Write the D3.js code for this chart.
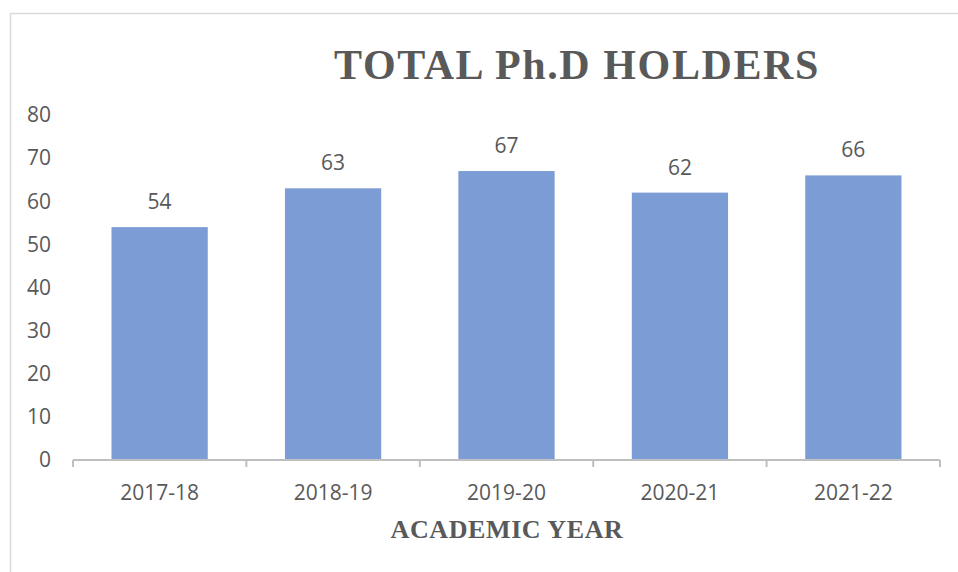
<!DOCTYPE html>
<html>
<head>
<meta charset="utf-8">
<script src="https://cdn.jsdelivr.net/npm/d3@7"></script>
<style>
  body { margin: 0; background: #fff; }
  svg { display: block; }
</style>
</head>
<body>
<svg id="chart"></svg>
<script>
// data
const years = ["2017-18", "2018-19", "2019-20", "2020-21", "2021-22"];
const phdHolders = [54, 63, 67, 62, 66];
const yTicks = [0, 10, 20, 30, 40, 50, 60, 70, 80];

const width = 958;
const height = 572;
const margin = { top: 115, right: 18, bottom: 112, left: 73 };

const svg = d3.select("#chart")
  .attr("width", width)
  .attr("height", height);

// outer frame
svg.append("rect")
  .attr("x", 10.5)
  .attr("y", 13.5)
  .attr("width", width)
  .attr("height", height)
  .attr("fill", "none")
  .attr("stroke", "#d9d9d9")
  .attr("stroke-width", 1.5);

const x = d3.scaleBand()
  .domain(years)
  .range([margin.left, width - margin.right])
  .paddingInner(0.445)
  .paddingOuter(0.222);

const y = d3.scaleLinear()
  .domain([0, 80])
  .range([height - margin.bottom, margin.top]);

// bars
svg.selectAll(".bar")
  .data(phdHolders)
  .enter()
  .append("rect")
  .attr("class", "bar")
  .attr("x", (d, i) => x(years[i]))
  .attr("y", d => y(d))
  .attr("width", x.bandwidth())
  .attr("height", d => y(0) - y(d))
  .attr("fill", "#7b9cd5");

// value labels
svg.selectAll(".val")
  .data(phdHolders)
  .enter()
  .append("text")
  .attr("class", "val")
  .attr("x", (d, i) => x(years[i]) + x.bandwidth() / 2)
  .attr("y", d => y(d) - 18)
  .attr("text-anchor", "middle")
  .attr("font-family", "'Open Sans', sans-serif")
  .attr("font-size", "21px")
  .attr("fill", "#595959")
  .text(d => d);

// y axis labels (no line)
svg.selectAll(".ytick")
  .data(yTicks)
  .enter()
  .append("text")
  .attr("class", "ytick")
  .attr("x", 51)
  .attr("y", d => y(d))
  .attr("dy", "0.35em")
  .attr("text-anchor", "end")
  .attr("font-family", "'Open Sans', sans-serif")
  .attr("font-size", "21px")
  .attr("fill", "#595959")
  .text(d => d);

// x axis with category boundary ticks
const x0 = margin.left;
const x1 = width - margin.right;
const axisY = y(0);
const xAxis = svg.append("g");
xAxis.append("line")
  .attr("x1", x0)
  .attr("x2", x1)
  .attr("y1", axisY)
  .attr("y2", axisY)
  .attr("stroke", "#bfbfbf")
  .attr("stroke-width", 2);
xAxis.selectAll(".tick")
  .data(d3.range(years.length + 1))
  .enter()
  .append("line")
  .attr("x1", i => x0 + i * (x1 - x0) / years.length)
  .attr("x2", i => x0 + i * (x1 - x0) / years.length)
  .attr("y1", axisY)
  .attr("y2", axisY + 7)
  .attr("stroke", "#bfbfbf")
  .attr("stroke-width", 2);

svg.selectAll(".xlab")
  .data(years)
  .enter()
  .append("text")
  .attr("class", "xlab")
  .attr("x", d => x(d) + x.bandwidth() / 2)
  .attr("y", axisY + 40)
  .attr("text-anchor", "middle")
  .attr("font-family", "'Open Sans', sans-serif")
  .attr("font-size", "21px")
  .attr("fill", "#595959")
  .text(d => d);

// titles
svg.append("text")
  .attr("x", 577)
  .attr("y", 79)
  .attr("text-anchor", "middle")
  .attr("font-family", "'Liberation Serif', 'Times New Roman', serif")
  .attr("font-weight", "bold")
  .attr("font-size", "42px")
  .attr("letter-spacing", "1.6px")
  .attr("fill", "#595959")
  .text("TOTAL Ph.D HOLDERS");

svg.append("text")
  .attr("x", 507)
  .attr("y", 538)
  .attr("text-anchor", "middle")
  .attr("font-family", "'Liberation Serif', 'Times New Roman', serif")
  .attr("font-weight", "bold")
  .attr("font-size", "26px")
  .attr("letter-spacing", "0.6px")
  .attr("fill", "#595959")
  .text("ACADEMIC YEAR");
</script>
</body>
</html>
